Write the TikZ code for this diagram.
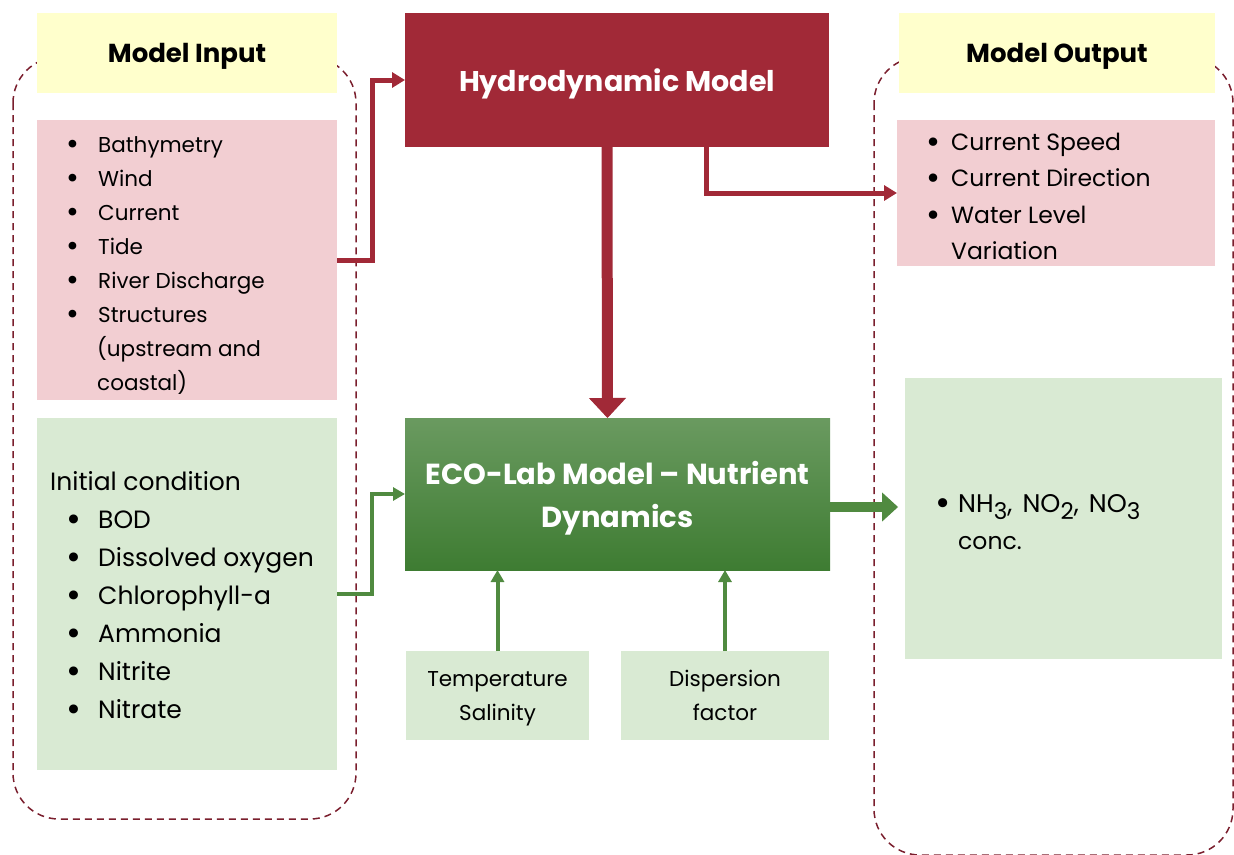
\documentclass[tikz,border=0pt]{standalone}
\usepackage{fontspec}
\setmainfont{Poppins}
\usetikzlibrary{arrows.meta}
\definecolor{hydroRed}{RGB}{161,41,55}
\definecolor{pinkFill}{RGB}{242,206,210}
\definecolor{yellowFill}{RGB}{255,255,204}
\definecolor{greenFill}{RGB}{217,234,211}
\definecolor{dashRed}{RGB}{122,30,45}
\definecolor{arrowGreen}{RGB}{80,138,64}
\definecolor{ecoTop}{RGB}{106,154,96}
\definecolor{ecoBot}{RGB}{62,124,50}
\newcommand{\bul}{\raisebox{-0.13em}{\scalebox{1.45}{\textbullet}}}
\newcommand{\lowsub}[1]{\raisebox{-0.3em}{\fontsize{23}{26}\selectfont #1}}
\tikzset{
  box/.style={inner sep=0pt, outer sep=0pt, anchor=north west, align=center},
  head/.style={box, fill=yellowFill, minimum height=80pt, text depth=0pt, font=\fontsize{26}{30}\selectfont\bfseries},
  item/.style={anchor=base west, inner sep=0pt, font=\fontsize{21.5}{26}\selectfont},
  gitem/.style={item, font=\fontsize{23.5}{28}\selectfont},
  litem/.style={item, font=\fontsize{25}{30}\selectfont},
  group/.style={draw=dashRed, line width=1.5pt, dash pattern=on 7pt off 5pt, rounded corners=46pt},
  redArrow/.style={draw=hydroRed, line width=5pt, -{Triangle[width=15pt,length=13pt]}},
  greenArrow/.style={draw=arrowGreen, line width=4pt, -{Triangle[width=13pt,length=12pt]}},
}
\begin{document}
\begin{tikzpicture}[x=1pt, y=-1pt]
		%%%%% START %%%%%
		\useasboundingbox (0,0) rectangle (1234,854);
		\begin{scope}
		\clip (0,0) rectangle (1234,854);
		\draw[group] (13,57) rectangle (356,819);
		\draw[group] (874,57) rectangle (1233,855);
		\end{scope}
		
		% input column
		\node[head, minimum width=300pt] (inhead) at (37,13) {Model Input};
		\node[box, fill=pinkFill, minimum width=300pt, minimum height=280pt] (inpink) at (37,120) {};
		\node[box, fill=greenFill, minimum width=300pt, minimum height=352pt] (ingreen) at (37,418) {};
		\foreach \txt [count=\i from 0] in {Bathymetry,Wind,Current,Tide,River Discharge,Structures}
			\node[item] (hin\i) at (66,152+34*\i) {\makebox[32pt][l]{\bul}\txt};
		\node[item] (hin6) at (97,356) {(upstream and};
		\node[item] (hin7) at (97,390) {coastal)};
		
		\node[litem] (ginit) at (50,490) {Initial condition};
		\foreach \txt [count=\i from 0] in {BOD,Dissolved oxygen,Chlorophyll-a,Ammonia,Nitrite,Nitrate}
			\node[litem] (gin\i) at (66,528+38*\i) {\makebox[32pt][l]{\bul}\txt};
		
		% models
		\node[box, fill=hydroRed, text=white, minimum width=424pt, minimum height=134pt, text depth=0pt,
			font=\fontsize{28.5}{32}\selectfont\bfseries] (hydro) at (405,13) {Hydrodynamic Model};
		\node[box, top color=ecoTop, bottom color=ecoBot, text=white, minimum width=425pt, minimum height=152pt,
			text depth=0pt, font=\fontsize{29}{43}\selectfont\bfseries] (eco) at (405,418) {ECO-Lab Model -- Nutrient\\Dynamics};
		\node[box, fill=greenFill, minimum width=183pt, minimum height=89pt, text depth=0pt,
			font=\fontsize{21.5}{34}\selectfont] (temp) at (406,651) {Temperature\\Salinity};
		\node[box, fill=greenFill, minimum width=208pt, minimum height=89pt, text depth=0pt,
			font=\fontsize{21.5}{34}\selectfont] (disp) at (621,651) {Dispersion\\factor};
		
		% output column
		\node[head, minimum width=316pt] (outhead) at (899,13) {Model Output};
		\node[box, fill=pinkFill, minimum width=318pt, minimum height=146pt] (outpink) at (897,120) {};
		\node[box, fill=greenFill, minimum width=317pt, minimum height=281pt] (outgreen) at (905,378) {};
		\foreach \txt [count=\i from 0] in {Current Speed,Current Direction,Water Level}
			\node[gitem] (hout\i) at (926,150+36.5*\i) {\makebox[25pt][l]{\bul}\txt};
		\node[gitem] (hout3) at (951,259) {Variation};
		\node[gitem, font=\fontsize{25.5}{30}\selectfont] (gout0) at (935,512)
			{\makebox[23pt][l]{\bul}NH\lowsub{3},\hspace{0.4em}NO\lowsub{2},\hspace{0.4em}NO\lowsub{3}};
		\node[gitem] (gout1) at (958,549) {conc.};
		
		% connectors
		\draw[redArrow] (inpink.east) -- ++(35,0) |- (hydro.west);
		\draw[redArrow] ([xshift=89pt]hydro.south) |- (outpink.west);
		\draw[draw=hydroRed, line width=11pt, -{Triangle[width=37pt,length=20pt,line width=1pt]}]
			([xshift=-10pt]hydro.south) -- ([xshift=-10pt]eco.north);
		\draw[greenArrow] (ingreen.east) -- ++(35,0) |- (eco.west);
		\coordinate (ecoout) at ([yshift=-13pt]eco.east);
		\draw[draw=arrowGreen, line width=10pt, shorten >=7pt, -{Triangle[width=29pt,length=16pt,line width=1pt]}]
			(ecoout) -- (ecoout -| outgreen.west);
		\draw[greenArrow] (temp.north) -- (temp.north |- eco.south);
		\draw[greenArrow] (disp.north) -- (disp.north |- eco.south);
		%%%%% END %%%%%
	\end{tikzpicture}
\end{document}
